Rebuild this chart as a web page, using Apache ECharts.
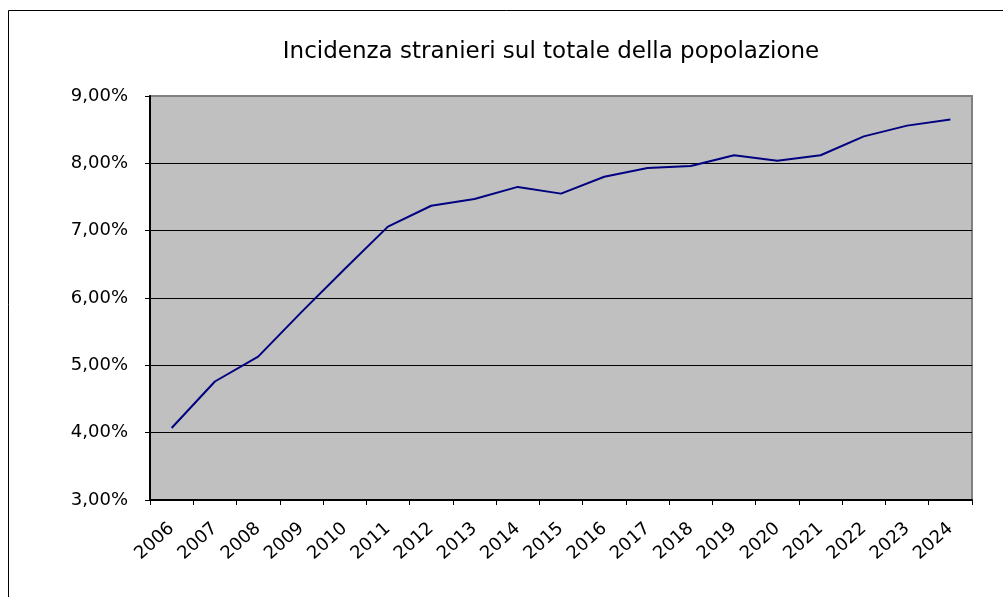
<!DOCTYPE html>
<html>
<head>
<meta charset="utf-8">
<script src="https://cdn.jsdelivr.net/npm/echarts@6/dist/echarts.min.js"></script>
<style>
  html, body { margin: 0; padding: 0; background: #fff; }
  #chart { width: 1003px; height: 597px; }
</style>
</head>
<body>
<div id="chart"></div>
<script>
// anni e incidenza (%)
var years = ['2006', '2007', '2008', '2009', '2010', '2011', '2012', '2013', '2014', '2015',
  '2016', '2017', '2018', '2019', '2020', '2021', '2022', '2023', '2024'];
var incidenza = [4.07, 4.76, 5.13, 5.79, 6.43, 7.06, 7.37, 7.47, 7.65, 7.55,
  7.80, 7.93, 7.96, 8.12, 8.04, 8.12, 8.40, 8.56, 8.65];

var myChart = echarts.init(document.getElementById('chart'));
var font = 'DejaVu Sans, Arial, sans-serif';

var option = {
  backgroundColor: '#fff',
  animation: false,
  title: {
    text: 'Incidenza stranieri sul totale della popolazione',
    left: 546,
    textAlign: 'center',
    top: 36,
    textStyle: { fontFamily: font, fontSize: 23, fontWeight: 'normal', color: '#000' }
  },
  graphic: [{
    // cornice del grafico (solo bordo sinistro e superiore visibili)
    type: 'rect',
    shape: { x: 8.5, y: 10.5, width: 1200, height: 800 },
    style: { fill: 'none', stroke: '#000', lineWidth: 1 },
    silent: true,
    z: -1
  }],
  grid: {
    left: 150,
    right: 31,
    top: 96,
    bottom: 97,
    show: true,
    backgroundColor: '#c0c0c0',
    borderColor: '#808080',
    borderWidth: 2
  },
  xAxis: {
    type: 'category',
    data: years,
    boundaryGap: true,
    axisLine: { lineStyle: { color: '#000', width: 2 } },
    axisTick: { show: true, length: 5, lineStyle: { color: '#000' } },
    axisLabel: {
      rotate: 42,
      margin: 26,
      interval: 0,
      fontFamily: font,
      fontSize: 18,
      color: '#000'
    },
    splitLine: { show: false }
  },
  yAxis: {
    type: 'value',
    min: 3,
    max: 9,
    interval: 1,
    axisLine: { show: true, lineStyle: { color: '#000', width: 2 } },
    axisTick: { show: true, length: 5, lineStyle: { color: '#000' } },
    axisLabel: {
      margin: 22,
      fontFamily: font,
      fontSize: 18,
      color: '#000',
      formatter: function (v) { return v.toFixed(2).replace('.', ',') + '%'; }
    },
    splitLine: { show: true, showMinLine: false, showMaxLine: false, lineStyle: { color: '#000', width: 1 } }
  },
  series: [{
    type: 'line',
    data: incidenza,
    symbol: 'none',
    lineStyle: { color: '#000080', width: 2 }
  }]
};
option && myChart.setOption(option);
</script>
</body>
</html>
